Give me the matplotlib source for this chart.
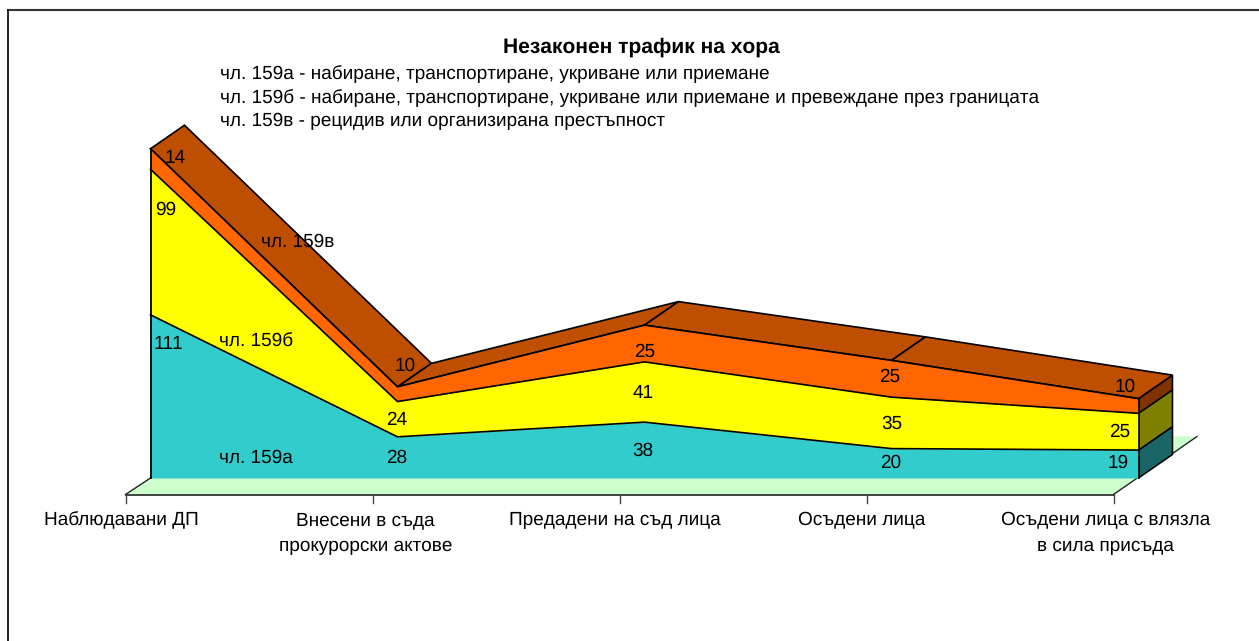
import matplotlib
matplotlib.use("Agg")
import matplotlib.pyplot as plt
from matplotlib.patches import Polygon
import numpy as np

plt.rcParams['font.family'] = ['Liberation Sans', 'DejaVu Sans']
plt.rcParams['text.hinting'] = 'no_hinting'
plt.rcParams['text.hinting_factor'] = 1

# данные
categories = ["Наблюдавани ДП", "Внесени в съда\nпрокурорски актове", "Предадени на съд лица",
              "Осъдени лица", "Осъдени лица с влязла\nв сила присъда"]
art_a = [111, 28, 38, 20, 19]
art_b = [99, 24, 41, 35, 25]
art_c = [14, 10, 25, 25, 10]
series_names = ["чл. 159а", "чл. 159б", "чл. 159в"]
title = "Незаконен трафик на хора"
legend_lines = ["чл. 159а - набиране, транспортиране, укриване или приемане",
                "чл. 159б - набиране, транспортиране, укриване или приемане и превеждане през границата",
                "чл. 159в - рецидив или организирана престъпност"]

front_colors = ["#33CCCC", "#FFFF00", "#FF6600"]
side_colors = ["#1A6666", "#808000", "#803300"]
top_color = "#BF4F00"
floor_color = "#CCFFCC"

W, H = 1259, 641
fig = plt.figure(figsize=(W / 100, H / 100), dpi=100)
ax = fig.add_axes([0, 0, 1, 1])

# масштаб: 247 px на категория, 1.47 px на единица
px_x = 247.0
px_y = 1.47
x0, y0 = 150.5, 478.0
ax.set_xlim(-x0 / px_x, (W - x0) / px_x)
ax.set_ylim((y0 - H) / px_y, y0 / px_y)
ax.axis("off")


def to_data(px, py):
    return (px - x0) / px_x, (y0 - py) / px_y


# псевдо-3D сдвиг, в единицах данных
depth_x = 34 / px_x
depth_y = 23.5 / px_y

x = np.arange(len(categories))
bottom = np.zeros(len(x))
levels = []
for s in (art_a, art_b, art_c):
    levels.append((bottom.copy(), bottom + np.array(s)))
    bottom = bottom + np.array(s)

# рамка: только верх и левый край
ax.plot(*zip(to_data(7.5, 10), to_data(W, 10)), color="#333333", lw=1.5, zorder=0)
ax.plot(*zip(to_data(7.5, 10), to_data(7.5, H)), color="black", lw=1.2, zorder=0)

# пол
fl_dx0, fl_dy0 = -25 / px_x, -16.5 / px_y
fl_x1 = x[-1] + fl_dx0
fl_back_x, fl_back_y = 83.5 / px_x, 58 / px_y
floor = [(fl_dx0, fl_dy0), (fl_x1, fl_dy0), (fl_x1 + fl_back_x, fl_dy0 + fl_back_y),
         (fl_dx0 + fl_back_x, fl_dy0 + fl_back_y)]
ax.add_patch(Polygon(floor, closed=True, fc=floor_color, ec="none", zorder=1))
ax.plot([fl_dx0, 0], [fl_dy0, 0], color="#222222", lw=1, zorder=1.5)
ax.plot([fl_x1, fl_x1 + fl_back_x], [fl_dy0, fl_dy0 + fl_back_y], color="#222222", lw=1, zorder=1.5)
ax.plot([fl_dx0, fl_x1], [fl_dy0, fl_dy0], color="#222222", lw=1.2, zorder=1.5)
# деления оси
tick_h = 8 / px_y
for i in x:
    ax.plot([i + fl_dx0, i + fl_dx0], [fl_dy0, fl_dy0 - tick_h], color="#444444", lw=1, zorder=1.5)

# боковая грань справа
for (lo, hi), c in zip(levels, side_colors):
    p = [(x[-1], lo[-1]), (x[-1], hi[-1]), (x[-1] + depth_x, hi[-1] + depth_y), (x[-1] + depth_x, lo[-1] + depth_y)]
    ax.add_patch(Polygon(p, closed=True, fc=c, ec="black", lw=1.1, zorder=2))

# верхняя грань
top = levels[-1][1]
for i in range(len(x) - 1):
    p = [(x[i], top[i]), (x[i + 1], top[i + 1]),
         (x[i + 1] + depth_x, top[i + 1] + depth_y), (x[i] + depth_x, top[i] + depth_y)]
    ax.add_patch(Polygon(p, closed=True, fc=top_color, ec="black", lw=1.2, zorder=3))

# передние слои
for (lo, hi), c in zip(levels, front_colors):
    ax.fill_between(x, lo, hi, color=c, lw=0, zorder=4)
for lo, hi in levels:
    ax.plot(x, hi, color="black", lw=1.2, zorder=5)
ax.plot([0, 0], [0, top[0]], color="black", lw=1.3, zorder=5)
ax.plot([x[-1], x[-1]], [0, top[-1]], color="black", lw=1.2, zorder=5)

# подписи значений (положение в px, как в оригинале)
fs = 13.6
label_px = [
    [(168, 344), (397, 458), (643, 451), (891, 463), (1118, 463)],
    [(166, 210), (397, 420), (643, 393), (892, 424), (1120, 432)],
    [(175, 158), (405, 366), (645, 352), (890, 377), (1125, 387)],
]
for pos, s in zip(label_px, (art_a, art_b, art_c)):
    for (px, py), v in zip(pos, s):
        dx, dy = to_data(px, py)
        ax.text(dx, dy, str(v), fontsize=fs, ha="center", va="center", zorder=6)

name_px = [(256, 458), (256, 342), (298, 242)]
for (px, py), n in zip(name_px, series_names):
    dx, dy = to_data(px, py)
    ax.text(dx, dy, n, fontsize=fs, ha="center", va="center", zorder=6)

# подписи категорий
cat_shift = [-4, -7, -5, -5, -8]
for i, c in enumerate(categories):
    dy = to_data(0, 511)[1]
    ax.text(i + fl_dx0 + cat_shift[i] / px_x, dy, c, fontsize=fs, ha="center", va="top",
            linespacing=1.64, zorder=6)

# заголовок и пояснения
tx, ty = to_data(641, 47)
ax.text(tx, ty, title, fontsize=15, fontweight="bold", ha="center", va="center", zorder=6)
for line, py in zip(legend_lines, [74, 98, 121]):
    lx, ly = to_data(220, py)
    ax.text(lx, ly, line, fontsize=fs, ha="left", va="center", zorder=6)

fig.savefig("out.png", dpi=100)
